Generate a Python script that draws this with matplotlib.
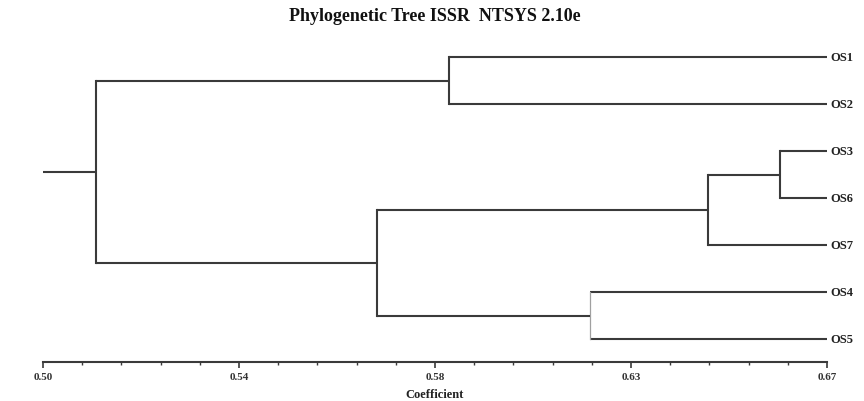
import matplotlib
matplotlib.use('Agg')
import matplotlib.pyplot as plt
import numpy as np


# leaves, top to bottom
leaves = ['OS1', 'OS2', 'OS3', 'OS6', 'OS7', 'OS4', 'OS5']

# merges: node ids 7.. are created in this order
merge_pairs = [(0, 1), (2, 3), (8, 4), (5, 6), (9, 10), (7, 11)]
merge_coef = [0.5880, 0.6598, 0.6442, 0.6186, 0.5724, 0.5115]

coef_min = 0.50
coef_max = 0.67
tick_labels = ['0.50', '0.54', '0.58', '0.63', '0.67']

line_col = '#3a3a3a'
font = 'Liberation Serif'

fig = plt.figure(figsize=(8.64, 4.02), dpi=100, facecolor='white')
ax = fig.add_axes([43/864, 0.0970, 784/864, 0.828])

# positions of every node: (x = coefficient, y = row)
pos_x = [coef_max]*len(leaves)
pos_y = list(range(len(leaves)))

for (a, b), c in zip(merge_pairs, merge_coef):
    for ch in (a, b):
        ax.plot([pos_x[ch], c], [pos_y[ch], pos_y[ch]], color=line_col, lw=1.5,
                solid_capstyle='butt', clip_on=False)
    vcol = '#a0a0a0' if (a, b) == (5, 6) else line_col
    vlw = 0.9 if (a, b) == (5, 6) else 1.5
    ax.plot([c, c], [pos_y[a], pos_y[b]], color=vcol, lw=vlw,
            solid_capstyle='projecting', clip_on=False)
    pos_x.append(c)
    pos_y.append((pos_y[a] + pos_y[b]) / 2)

# root stub
ax.plot([coef_min, pos_x[-1]], [pos_y[-1], pos_y[-1]], color=line_col, lw=1.5,
        solid_capstyle='butt', clip_on=False)

for i, name in enumerate(leaves):
    ax.text(coef_max + 0.0008, i, name, ha='left', va='center', fontsize=9,
            fontweight='bold', family=font, color='#222222', clip_on=False)

ax.set_xlim(coef_min, coef_max)
ax.set_ylim(6.489, -0.596)
ax.set_xticks(np.linspace(coef_min, coef_max, len(tick_labels)))
ax.set_xticklabels(tick_labels, fontsize=8, fontweight='bold', family=font, color='#333333')
ax.set_xticks(np.linspace(coef_min, coef_max, 21), minor=True)
ax.tick_params(axis='x', which='major', direction='out', length=4, width=1.2, color=line_col, pad=3)
ax.tick_params(axis='x', which='minor', direction='out', length=2.5, width=1.0, color=line_col)
ax.set_yticks([])
for s in ['left', 'right', 'top']:
    ax.spines[s].set_visible(False)
ax.spines['bottom'].set_color(line_col)
ax.spines['bottom'].set_linewidth(1.5)

fig.text(0.5035, 0.958, 'Phylogenetic Tree ISSR  NTSYS 2.10e', ha='center', va='center',
         fontsize=13, fontweight='bold', family=font, color='#111111')
fig.text(0.5035, 0.003, 'Coefficient', ha='center', va='bottom', fontsize=9,
         fontweight='bold', family=font, color='#222222')

fig.savefig('out.png', dpi=100, facecolor='white')
